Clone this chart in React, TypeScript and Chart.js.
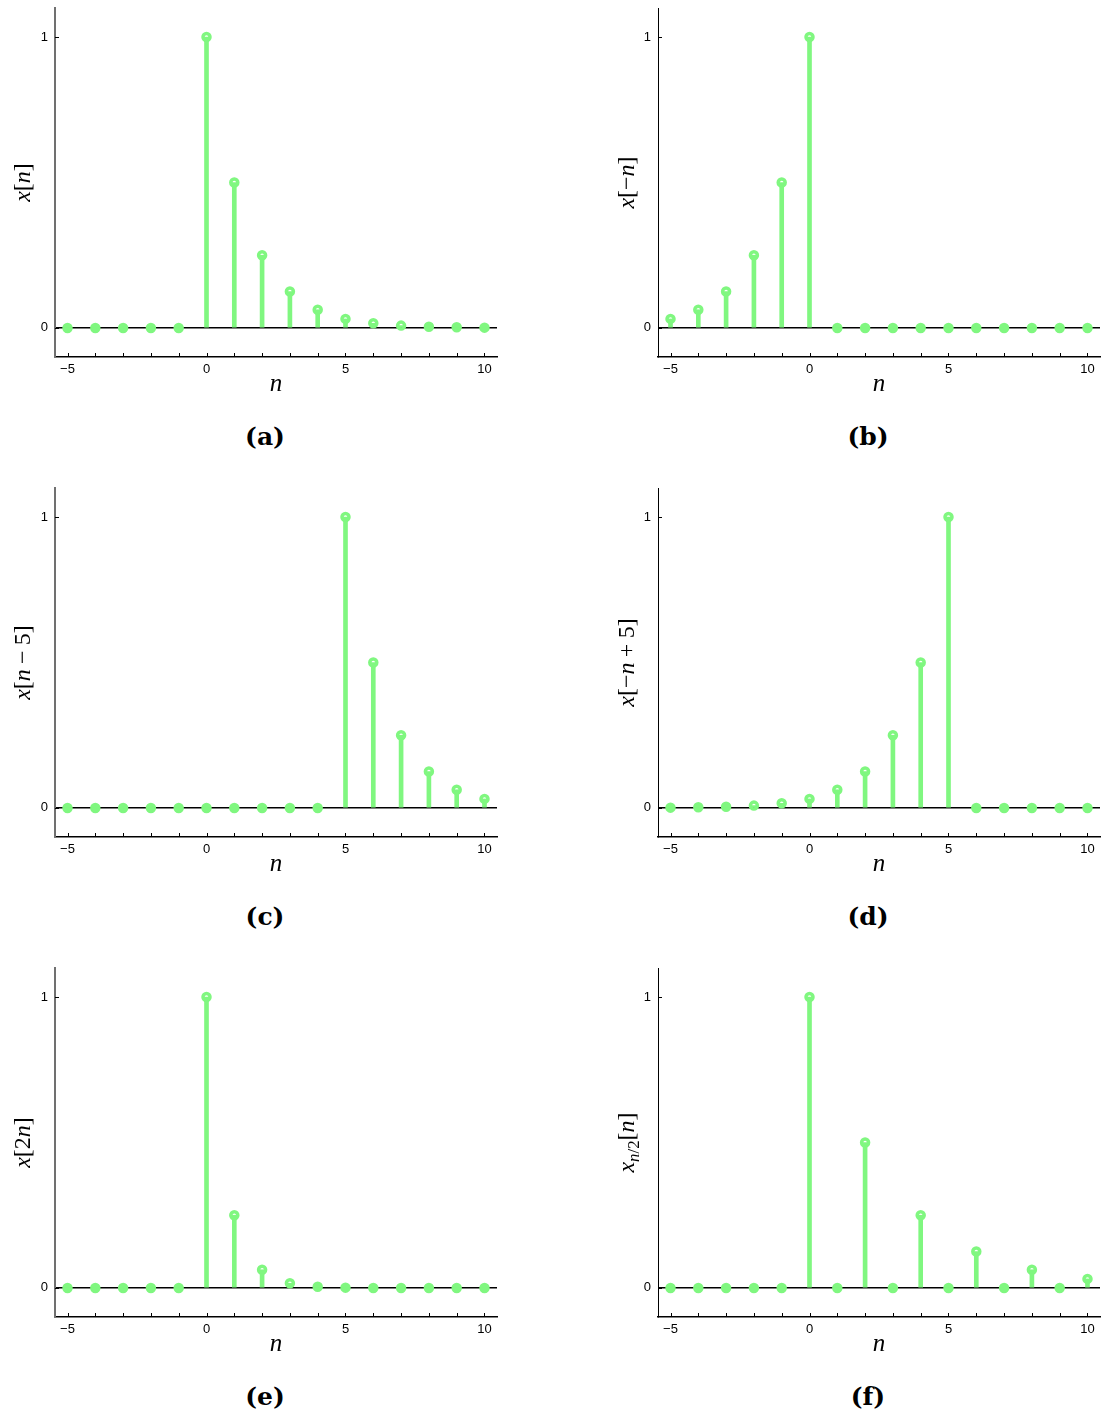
import React, { useEffect, useRef } from 'react';
import { Chart, registerables } from 'chart.js';

Chart.register(...registerables);

// ---------- data ----------
const N = [-5, -4, -3, -2, -1, 0, 1, 2, 3, 4, 5, 6, 7, 8, 9, 10];
const X_A = [0, 0, 0, 0, 0, 1, 0.5, 0.25, 0.125, 0.0625, 0.031, 0.016, 0.008, 0.004, 0.002, 0.001];
const X_B = [0.031, 0.0625, 0.125, 0.25, 0.5, 1, 0, 0, 0, 0, 0, 0, 0, 0, 0, 0];
const X_C = [0, 0, 0, 0, 0, 0, 0, 0, 0, 0, 1, 0.5, 0.25, 0.125, 0.0625, 0.031];
const X_D = [0.001, 0.002, 0.004, 0.008, 0.016, 0.031, 0.0625, 0.125, 0.25, 0.5, 1, 0, 0, 0, 0, 0];
const X_E = [0, 0, 0, 0, 0, 1, 0.25, 0.0625, 0.016, 0.004, 0.001, 0, 0, 0, 0, 0];
const X_F = [0, 0, 0, 0, 0, 1, 0, 0.5, 0, 0.25, 0, 0.125, 0, 0.0625, 0, 0.031];

const X_TICKS = [-5, -4, -3, -2, -1, 0, 1, 2, 3, 4, 5, 6, 7, 8, 9, 10];
const X_TICK_LABELS: Record<string, string> = { '-5': '\u22125', '0': '0', '5': '5', '10': '10' };
const Y_TICKS = [0, 1];
const Y_TICK_LABELS: Record<string, string> = { '0': '0', '1': '1' };
const X_TITLE = 'n';
const CAPTIONS = ['(a)', '(b)', '(c)', '(d)', '(e)', '(f)'];

type Seg = { t: string; it?: boolean; sub?: boolean; pad?: number };
const LABEL_A: Seg[] = [{ t: 'x', it: true }, { t: '[' }, { t: 'n', it: true }, { t: ']' }];
const LABEL_B: Seg[] = [{ t: 'x', it: true }, { t: '[' }, { t: '\u2212' }, { t: 'n', it: true }, { t: ']' }];
const LABEL_C: Seg[] = [{ t: 'x', it: true }, { t: '[' }, { t: 'n', it: true }, { t: '\u2212', pad: 0.22 }, { t: '5' }, { t: ']' }];
const LABEL_D: Seg[] = [{ t: 'x', it: true }, { t: '[' }, { t: '\u2212' }, { t: 'n', it: true }, { t: '+', pad: 0.22 }, { t: '5' }, { t: ']' }];
const LABEL_E: Seg[] = [{ t: 'x', it: true }, { t: '[' }, { t: '2' }, { t: 'n', it: true }, { t: ']' }];
const LABEL_F: Seg[] = [{ t: 'x', it: true }, { t: 'n', it: true, sub: true }, { t: '/2', sub: true }, { t: '[' }, { t: 'n', it: true }, { t: ']' }];

const PANELS = [
  { values: X_A, label: LABEL_A },
  { values: X_B, label: LABEL_B },
  { values: X_C, label: LABEL_C },
  { values: X_D, label: LABEL_D },
  { values: X_E, label: LABEL_E },
  { values: X_F, label: LABEL_F },
];

// ---------- style ----------
const GREEN = '#80f780';
const SERIF = '"Liberation Serif", "Times New Roman", serif';
const SANS = '"Liberation Sans", Arial, Helvetica, sans-serif';
const CANVAS_W = 552;
const CANVAS_H = 410;
const ROW_H = 480;

const yLabelPlugin = {
  id: 'yLabel',
  afterDraw(chart: any, _args: any, opts: any) {
    const { ctx, chartArea } = chart;
    const segs: Seg[] = opts.segs || [];
    const size: number = opts.size;
    ctx.save();
    ctx.translate(opts.x, (chartArea.top + chartArea.bottom) / 2);
    ctx.rotate(-Math.PI / 2);
    ctx.fillStyle = '#000';
    ctx.textBaseline = 'alphabetic';
    ctx.textAlign = 'left';
    const items = segs.map((s) => {
      const fs = s.sub ? size * 0.7 : size;
      const font = `${s.it ? 'italic ' : ''}${fs}px ${SERIF}`;
      ctx.font = font;
      const w = ctx.measureText(s.t).width;
      const pad = (s.pad || 0) * size;
      return { s, font, w, pad };
    });
    const total = items.reduce((a, i) => a + i.w + 2 * i.pad, 0);
    let x = -total / 2;
    const base = size * 0.25;
    for (const it of items) {
      x += it.pad;
      ctx.font = it.font;
      ctx.fillText(it.s.t, x, it.s.sub ? base + size * 0.22 : base);
      x += it.w + it.pad;
    }
    ctx.restore();
  },
};

const tickMarkPlugin = {
  id: 'tickMarks',
  afterDatasetsDraw(chart: any) {
    const { ctx, chartArea, scales } = chart;
    ctx.save();
    ctx.strokeStyle = '#000';
    ctx.lineWidth = 1;
    ctx.beginPath();
    for (const v of X_TICKS) {
      const px = Math.round(scales.x.getPixelForValue(v)) + 0.5;
      ctx.moveTo(px, chartArea.bottom);
      ctx.lineTo(px, chartArea.bottom - 4);
    }
    for (const v of Y_TICKS) {
      const py = Math.round(scales.y.getPixelForValue(v)) + 0.5;
      ctx.moveTo(chartArea.left, py);
      ctx.lineTo(chartArea.left + 4, py);
    }
    ctx.stroke();
    ctx.restore();
  },
};

function zeroPad(s: any) {
  s.paddingLeft = 0;
  s.paddingRight = 0;
  s.paddingTop = 0;
  s.paddingBottom = 0;
}

function Panel({ values, label, col }: { values: number[]; label: Seg[]; col: number }) {
  const ref = useRef<HTMLCanvasElement>(null);
  useEffect(() => {
    const leftW = col === 0 ? 55 : 106;
    const rightPad = col === 0 ? 55 : 4;
    const pts = N.map((n, i) => ({ x: n, y: values[i] }));
    const chart = new Chart(ref.current as HTMLCanvasElement, {
      type: 'bar',
      data: {
        datasets: [
          {
            type: 'scatter',
            data: pts,
            pointRadius: 3.5,
            pointBorderWidth: 3.5,
            pointBorderColor: GREEN,
            pointBackgroundColor: (c: any) => (c.raw && c.raw.y < 0.005 ? GREEN : 'rgba(0,0,0,0)'),
            order: 0,
            clip: false,
          } as any,
          {
            type: 'bar',
            data: pts,
            backgroundColor: GREEN,
            borderWidth: 0,
            barThickness: 4,
            order: 1,
          } as any,
        ],
      },
      options: {
        responsive: false,
        animation: false,
        events: [],
        layout: { autoPadding: false, padding: { left: 0, right: rightPad, top: 8, bottom: 0 } },
        plugins: {
          legend: { display: false },
          tooltip: { enabled: false },
          yLabel: { segs: label, x: col === 0 ? 24 : 76, size: 24 },
        } as any,
        scales: {
          x: {
            type: 'linear',
            min: -5.45,
            max: 10.45,
            offset: false,
            afterBuildTicks: (s: any) => {
              s.ticks = X_TICKS.map((v) => ({ value: v }));
            },
            afterFit: (s: any) => {
              s.height = CANVAS_H - 357;
              zeroPad(s);
            },
            grid: { display: false, drawTicks: false },
            border: { display: true, color: '#000', width: 1.5 },
            ticks: {
              autoSkip: false,
              maxRotation: 0,
              padding: 5,
              color: '#000',
              font: { family: SANS, size: 13 },
              callback: (v: any) => X_TICK_LABELS[String(v)] ?? '',
            },
            title: {
              display: true,
              text: X_TITLE,
              color: '#000',
              font: { family: SERIF, size: 25, style: 'italic' },
              padding: { top: 0, bottom: 11 },
            },
          },
          y: {
            type: 'linear',
            min: -0.1,
            max: 1.1,
            afterBuildTicks: (s: any) => {
              s.ticks = Y_TICKS.map((v) => ({ value: v }));
            },
            afterFit: (s: any) => {
              s.width = leftW;
              zeroPad(s);
            },
            grid: {
              drawTicks: false,
              lineWidth: 1.5,
              color: (c: any) => (c.tick && c.tick.value === 0 ? '#000' : 'rgba(0,0,0,0)'),
            },
            border: { display: true, color: col === 0 ? '#707070' : '#000', width: col === 0 ? 2 : 1 },
            ticks: {
              padding: 7,
              color: '#000',
              font: { family: SANS, size: 13 },
              callback: (v: any) => Y_TICK_LABELS[String(v)] ?? '',
            },
          },
        },
      } as any,
      plugins: [yLabelPlugin, tickMarkPlugin],
    });
    return () => chart.destroy();
  }, []);
  return <canvas ref={ref} width={CANVAS_W} height={CANVAS_H} style={{ width: CANVAS_W, height: CANVAS_H, display: 'block' }} />;
}

export default function App() {
  return (
    <div style={{ position: 'absolute', left: 0, top: 0, width: 1104, height: 1414, overflow: 'hidden', background: '#fff' }}>
      {PANELS.map((p, i) => {
        const col = i % 2;
        const row = Math.floor(i / 2);
        const capX = col === 0 ? 265 : 868;
        return (
          <React.Fragment key={i}>
            <div style={{ position: 'absolute', left: col * CANVAS_W, top: row * ROW_H }}>
              <Panel values={p.values} label={p.label} col={col} />
            </div>
            <div
              style={{
                position: 'absolute',
                left: capX - 60,
                width: 120,
                top: row * ROW_H + 437 - 18,
                height: 36,
                lineHeight: '36px',
                textAlign: 'center',
                fontFamily: '"DejaVu Serif", serif',
                fontWeight: 'bold',
                fontSize: 25,
                color: '#000',
              }}
            >
              {CAPTIONS[i]}
            </div>
          </React.Fragment>
        );
      })}
    </div>
  );
}
